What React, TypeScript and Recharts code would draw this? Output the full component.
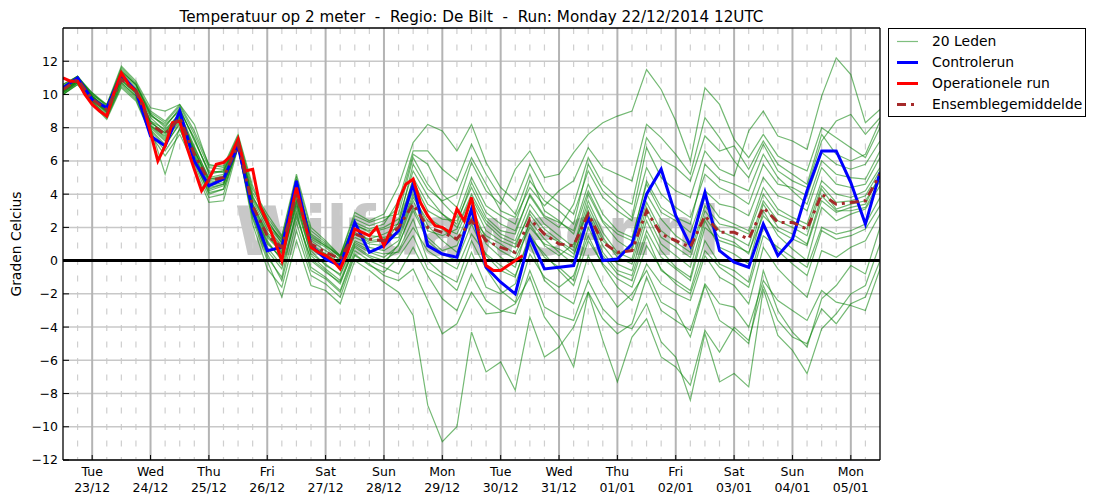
import React from "react";
import {
    CartesianGrid,
    Line,
    LineChart,
    ReferenceLine,
    XAxis,
    YAxis,
} from "recharts";

const FONT = '"DejaVu Sans", sans-serif';

// x axis: 6-hourly steps after the run (22/12 12UTC), ticks at 00UTC of each day
const dayTicks = [2, 6, 10, 14, 18, 22, 26, 30, 34, 38, 42, 46, 50, 54];
const dayNames = ["Tue", "Wed", "Thu", "Fri", "Sat", "Sun", "Mon", "Tue", "Wed", "Thu", "Fri", "Sat", "Sun", "Mon"];
const dayDates = ["23/12", "24/12", "25/12", "26/12", "27/12", "28/12", "29/12", "30/12", "31/12", "01/01", "02/01", "03/01", "04/01", "05/01"];
const yTicks = [-12, -10, -8, -6, -4, -2, 0, 2, 4, 6, 8, 10, 12];

// control run, 6-hourly
const controlRun = [
    10.4, 11.0, 9.7, 9.2, 11.2, 10.2, 7.5, 6.9, 9.0, 6.0, 4.5, 4.9, 6.9, 3.0, 0.6, 0.8,
    4.8, 0.9, 0.1, -0.3, 2.3, 0.5, 0.9, 1.8, 4.6, 0.9, 0.4, 0.2, 3.1, -0.4, -1.3, -2.0,
    1.4, -0.5, -0.4, -0.3, 2.6, 0.0, 0.1, 1.0, 4.0, 5.5, 2.7, 0.9, 4.1, 0.6, -0.1, -0.4,
    2.2, 0.3, 1.3, 4.2, 6.6, 6.6, 4.7, 2.2, 5.3,
];

// operational run, 3-hourly (ends after 189h)
const operationalRun = [
    11.0, 10.8, 10.8, 10.0, 9.4, 9.0, 8.7, 10.1, 11.3, 10.6, 10.2, 9.4, 7.7, 6.0, 6.9, 8.3,
    8.4, 6.8, 5.5, 4.2, 4.9, 5.8, 5.9, 6.3, 7.3, 5.4, 5.5, 3.3, 2.3, 1.2, 0.0, 2.3,
    4.4, 2.5, 0.8, 0.5, 0.3, 0.0, -0.5, 0.5, 1.9, 1.7, 1.5, 2.0, 0.9, 1.9, 3.6, 4.6,
    4.9, 3.5, 2.7, 2.1, 2.0, 1.7, 3.1, 2.4, 3.8, 1.6, -0.3, -0.6, -0.6, -0.3, 0.0, 0.3,
];

// ensemble mean, 6-hourly
const ensembleMean = [
    10.3, 10.9, 9.7, 9.1, 10.9, 10.2, 8.2, 7.6, 8.6, 6.4, 4.8, 5.0, 7.0, 3.3, 1.5, 0.8,
    4.0, 1.0, 0.5, 0.1, 1.6, 1.3, 1.2, 2.0, 3.4, 2.0, 1.7, 1.3, 2.4, 1.2, 0.8, 0.5,
    2.5, 1.6, 1.0, 0.9, 2.8, 1.1, 0.5, 0.6, 3.0, 1.6, 1.2, 0.8, 2.7, 1.7, 1.7, 1.3,
    3.2, 2.3, 2.3, 1.9, 4.0, 3.4, 3.5, 3.6, 5.2,
];

// 20 ensemble members, 6-hourly
const member01 = [10.1, 10.8, 9.9, 9.1, 11.4, 10.6, 8.8, 8.0, 9.2, 7.2, 5.4, 5.3, 7.2, 3.8, 2.4, 1.2, 4.6, 1.6, 1.0, 0.2, 2.1, 1.8, 2.0, 2.5, 5.4, 3.9, 2.8, 2.2, 4.7, 2.9, 2.2, 1.8, 3.9, 2.6, 2.0, 3.4, 6.2, 4.6, 3.8, 3.4, 7.4, 6.1, 5.6, 4.8, 7.5, 6.6, 6.9, 5.5, 7.2, 5.8, 5.2, 4.6, 7.6, 6.4, 6.0, 6.4, 8.4];
const member02 = [10.0, 10.6, 9.5, 8.6, 10.6, 9.8, 7.8, 6.9, 8.3, 6.0, 4.2, 4.5, 6.9, 2.8, 0.2, -1.0, 3.0, -0.4, -1.0, -1.8, 0.6, 0.0, -0.4, -0.8, 0.8, -0.9, -2.3, -3.0, -0.8, -2.4, -3.0, -3.2, -0.6, -2.8, -3.3, -3.6, -1.2, -2.9, -3.8, -4.1, -2.6, -4.9, -5.8, -8.4, -4.4, -7.3, -6.8, -7.6, -1.7, -4.5, -5.4, -6.8, -4.1, -3.2, -2.0, -1.5, 1.0];
const member03 = [10.4, 11.0, 10.1, 9.3, 11.6, 10.7, 9.0, 8.4, 9.4, 7.8, 5.8, 5.6, 7.5, 4.3, 2.8, 1.5, 5.2, 2.0, 1.2, 0.3, 2.9, 2.4, 2.8, 4.5, 7.1, 8.2, 7.8, 6.6, 8.2, 5.9, 4.4, 3.6, 5.8, 4.2, 3.5, 2.8, 5.4, 3.8, 3.0, 2.4, 5.6, 4.0, 3.2, 2.6, 5.2, 4.4, 4.0, 3.4, 5.8, 4.6, 4.4, 3.9, 6.5, 5.8, 5.5, 5.8, 7.2];
const member04 = [10.2, 10.8, 9.7, 8.8, 10.9, 10.0, 8.0, 5.2, 8.0, 5.6, 3.5, 3.6, 6.8, 2.5, 0.0, -2.2, 1.2, -1.5, -1.8, -2.6, 0.0, -0.6, -1.3, -1.9, -3.3, -8.7, -10.9, -10.0, -4.3, -6.7, -6.1, -7.8, -3.4, -5.8, -5.2, -4.0, -1.9, -3.5, -4.4, -3.8, -1.0, -3.0, -3.6, -4.2, -1.4, -2.6, -2.8, -4.0, -1.2, -2.4, -3.0, -3.6, -1.8, -2.5, -2.7, -3.0, -0.5];
const member05 = [10.5, 11.1, 9.9, 9.1, 11.2, 10.4, 8.6, 7.8, 8.9, 6.9, 4.9, 5.1, 7.1, 3.4, 1.6, 0.4, 3.9, 0.8, 0.4, -0.1, 1.6, 1.3, 1.6, 2.0, 4.2, 2.6, 2.0, 1.6, 3.6, 1.8, 1.2, 0.8, 3.0, 1.9, 1.2, 0.6, 3.6, 1.7, 0.5, 0.1, 3.2, 1.4, 0.8, 0.2, 3.0, 1.8, 1.4, 0.9, 3.6, 2.4, 2.0, 1.5, 4.3, 3.1, 3.4, 3.6, 5.0];
const member06 = [10.3, 10.9, 9.6, 9.0, 10.8, 10.1, 8.2, 7.4, 8.6, 6.5, 4.6, 4.9, 7.0, 3.1, 1.2, 0.0, 3.5, 0.3, -0.5, -1.2, 1.0, 0.5, 0.2, 0.9, 3.2, 1.4, 0.6, 0.9, 2.9, 1.0, 0.2, -0.4, 2.4, 1.3, 0.5, -0.2, 2.8, 0.9, -0.2, -0.6, 2.4, 0.6, -0.4, -1.0, 2.4, 0.8, 0.4, -0.2, 3.0, 1.5, 0.7, 0.0, 3.2, 2.4, 2.8, 3.1, 4.5];
const member07 = [10.6, 11.1, 10.0, 9.4, 11.7, 10.8, 9.2, 9.0, 9.4, 8.2, 5.7, 5.7, 7.6, 4.5, 2.5, 1.0, 4.9, 1.3, 0.8, 0.0, 2.5, 2.1, 2.4, 3.2, 6.4, 5.8, 4.0, 3.2, 5.9, 4.2, 3.4, 5.5, 6.6, 5.0, 5.2, 6.5, 7.6, 8.3, 8.7, 9.0, 11.5, 10.3, 8.4, 6.0, 10.4, 9.4, 7.3, 6.2, 7.6, 6.3, 5.8, 5.4, 8.0, 7.4, 6.8, 6.2, 8.0];
const member08 = [10.0, 10.7, 9.4, 8.5, 10.4, 9.6, 7.6, 6.3, 7.6, 5.8, 3.8, 4.0, 6.9, 2.2, -0.5, -1.6, 1.8, -0.9, -1.4, -2.2, 0.3, -0.2, -0.9, -1.2, -0.5, -2.4, -4.4, -3.8, -1.9, -3.2, -3.1, -2.6, -1.0, -3.4, -4.6, -6.4, -1.9, -4.8, -7.3, -4.6, -3.5, -5.8, -6.4, -7.5, -4.2, -5.5, -4.0, -4.8, -1.5, -3.6, -4.6, -5.0, -2.9, -3.8, -2.6, -2.2, 0.0];
const member09 = [10.2, 10.9, 9.9, 9.2, 11.0, 10.3, 8.4, 7.9, 8.8, 6.8, 5.0, 5.2, 7.2, 3.6, 1.9, 0.9, 4.2, 1.2, 0.6, 0.1, 1.9, 1.5, 1.4, 1.6, 4.0, 2.1, 1.2, 0.5, 2.6, 1.5, 1.0, 0.4, 2.2, 0.9, 0.3, 1.0, 3.0, 1.2, 0.4, 0.8, 4.0, 2.5, 1.5, 0.9, 3.8, 2.6, 2.2, 1.8, 4.4, 3.1, 2.6, 2.2, 4.8, 4.0, 3.8, 4.2, 5.6];
const member10 = [10.4, 11.0, 9.8, 8.9, 11.1, 10.2, 8.1, 7.3, 8.5, 6.3, 4.5, 4.7, 6.9, 3.0, 1.0, 0.2, 3.4, 0.6, -0.3, -0.8, 1.2, 0.8, 0.6, 1.2, 3.6, 1.8, 1.5, 1.9, 3.8, 2.2, 1.4, 1.0, 2.8, 1.6, 1.1, 0.4, 2.6, 0.5, -0.6, -0.9, 1.8, 0.2, -0.5, -1.2, 2.0, 1.2, 0.9, 0.5, 2.7, 1.8, 1.3, 0.9, 3.6, 2.9, 3.2, 3.4, 5.2];
const member11 = [10.1, 10.7, 9.6, 8.7, 10.7, 9.9, 7.9, 7.0, 8.2, 6.1, 4.0, 4.3, 6.8, 2.9, 0.6, -0.5, 2.6, 0.1, -0.6, -1.4, 0.9, 0.3, 0.0, 0.6, 2.5, 0.0, -0.8, -1.3, 1.2, -0.5, -1.8, -2.5, 0.4, -1.0, -1.6, -0.9, 1.5, -0.3, -1.6, -2.4, -0.2, -1.4, -2.0, -2.4, 0.3, -1.0, -1.5, -2.6, 0.8, -0.5, -1.4, -2.2, 0.6, 0.2, 0.8, 1.2, 2.8];
const member12 = [10.3, 10.9, 9.8, 9.1, 11.3, 10.5, 8.7, 8.2, 9.0, 7.4, 5.2, 5.4, 7.3, 3.9, 2.1, 1.1, 4.4, 1.5, 0.9, 0.3, 2.3, 1.9, 2.2, 3.6, 6.6, 6.6, 5.5, 4.8, 7.0, 5.2, 3.8, 2.8, 5.2, 3.0, 2.4, 1.6, 4.2, 2.4, 1.6, 1.2, 4.8, 3.2, 2.6, 2.2, 5.8, 4.9, 4.6, 4.2, 6.4, 5.0, 4.2, 3.4, 6.0, 5.2, 5.0, 4.9, 6.6];
const member13 = [10.5, 11.0, 9.9, 9.2, 11.0, 10.3, 8.3, 7.7, 8.7, 6.7, 4.7, 4.9, 7.0, 3.2, 1.4, 0.5, 3.6, 0.7, 0.1, -0.4, 1.4, 1.0, 0.9, 2.3, 4.8, 3.0, 2.5, 2.4, 4.4, 2.6, 1.8, 1.6, 4.0, 2.7, 2.3, 1.8, 4.6, 2.8, 1.8, 1.4, 4.6, 2.9, 2.4, 1.7, 4.2, 3.4, 3.2, 2.7, 5.0, 3.9, 3.6, 3.0, 5.6, 4.6, 4.4, 4.6, 6.2];
const member14 = [10.2, 10.8, 9.7, 8.9, 10.9, 10.1, 8.1, 7.5, 8.6, 6.4, 4.4, 4.6, 6.9, 3.0, 1.1, 0.1, 3.2, 0.4, -0.2, -0.9, 1.1, 0.6, 0.4, 0.5, 2.0, 0.6, 0.0, -0.5, 1.6, 0.4, -0.3, -0.9, 1.4, 0.4, -0.6, -1.5, 1.2, -0.2, -1.1, -1.6, 0.9, -0.5, -1.4, -2.0, 0.6, -0.4, -1.0, -1.6, 1.5, 0.8, 0.2, -0.4, 2.0, 1.6, 1.8, 2.2, 3.8];
const member15 = [10.4, 11.0, 10.0, 9.3, 11.5, 10.6, 8.9, 8.3, 9.3, 7.6, 5.6, 5.5, 7.4, 4.1, 2.6, 1.4, 5.0, 1.8, 1.1, 0.3, 2.7, 2.3, 2.6, 2.8, 6.2, 4.6, 3.5, 2.6, 5.0, 3.3, 2.7, 2.2, 4.8, 3.6, 3.0, 2.2, 5.8, 4.2, 3.4, 2.6, 6.8, 5.0, 4.2, 3.8, 6.6, 5.5, 5.1, 7.8, 9.0, 7.5, 7.2, 6.7, 9.9, 12.2, 11.2, 8.3, 9.1];
const member16 = [10.1, 10.7, 9.5, 8.6, 10.5, 9.7, 7.7, 6.6, 7.9, 5.9, 4.1, 4.3, 6.8, 2.6, 0.4, -1.2, 2.3, -0.6, -1.1, -1.9, 0.4, -0.3, -0.7, 0.2, 1.5, -0.5, -1.0, -1.8, 0.5, -1.6, -2.0, -1.4, 1.0, -1.2, -2.0, -2.6, 0.3, -1.5, -2.8, -2.0, -0.6, -2.5, -3.0, -4.6, -1.5, -3.6, -4.2, -5.0, -0.6, -3.0, -4.3, -5.2, -2.3, -1.5, -0.3, -0.8, 2.0];
const member17 = [10.3, 10.9, 9.8, 9.0, 11.1, 10.3, 8.4, 7.6, 8.7, 6.6, 4.8, 5.0, 7.1, 3.3, 1.5, 0.6, 3.7, 0.9, 0.3, -0.2, 1.6, 1.1, 1.2, 1.8, 5.0, 3.4, 2.8, 2.0, 4.0, 2.4, 1.6, 1.2, 3.4, 2.2, 1.5, 0.8, 4.0, 2.3, 1.2, 0.6, 3.5, 1.8, 1.1, 0.5, 3.3, 2.2, 2.0, 1.6, 4.0, 2.8, 2.4, 1.9, 4.5, 3.5, 3.6, 3.9, 5.4];
const member18 = [10.6, 11.1, 10.1, 9.4, 11.4, 10.6, 8.8, 8.1, 9.1, 7.3, 5.3, 5.4, 7.3, 3.7, 2.2, 1.3, 4.5, 1.4, 0.9, 0.2, 2.2, 1.7, 1.9, 2.2, 5.8, 4.3, 3.6, 4.0, 6.2, 4.6, 3.0, 2.6, 4.4, 3.3, 4.2, 4.8, 6.8, 5.6, 5.2, 4.8, 8.2, 7.4, 6.4, 5.2, 8.6, 7.4, 6.0, 5.0, 7.0, 5.4, 4.8, 4.4, 7.2, 8.4, 8.8, 7.6, 8.6];
const member19 = [10.0, 10.6, 9.6, 8.7, 10.7, 9.9, 8.0, 7.2, 8.4, 6.2, 4.3, 4.6, 6.9, 2.9, 0.8, -0.3, 2.8, 0.0, -0.7, -1.3, 0.8, 0.2, -0.2, 1.0, 3.0, 1.2, 0.4, 0.0, 2.2, 0.3, -0.6, -1.0, 1.6, 0.2, -0.4, -1.2, 2.0, 0.3, -0.8, -1.2, 1.5, -0.6, -1.2, -1.8, 1.2, -0.2, -0.6, -1.3, 2.0, 0.6, -0.2, -0.9, 1.8, 1.3, 1.5, 1.9, 3.3];
const member20 = [10.2, 10.8, 9.8, 9.0, 11.0, 10.2, 8.3, 7.7, 8.8, 6.6, 4.9, 5.0, 7.1, 3.4, 1.7, 0.8, 4.0, 1.0, 0.4, -0.2, 1.7, 1.2, 1.3, 1.4, 3.8, 2.4, 1.9, 1.2, 3.2, 1.3, 0.6, 0.1, 2.0, 1.0, 0.7, 0.2, 3.3, 1.4, 0.2, -0.2, 2.8, 1.0, 0.3, -0.4, 2.6, 1.4, 1.1, 0.4, 3.4, 2.0, 1.6, 1.0, 3.9, 3.0, 3.0, 3.2, 4.8];

const members = [
    member01, member02, member03, member04, member05, member06, member07, member08, member09, member10,
    member11, member12, member13, member14, member15, member16, member17, member18, member19, member20,
];

const legendLabels = ["20 Leden", "Controlerun", "Operationele run", "Ensemblegemiddelde"];

const toSeries = (values: number[], step: number) => values.map((y, i) => ({ x: i * step, y }));

const minorTicks: number[] = [];
for (let s = 1; s < 56; s++) if (!dayTicks.includes(s)) minorTicks.push(s);

const fmtY = (v: number) => (v < 0 ? `\u2212${-v}` : `${v}`);

const DayTick = (props: any) => {
    const { x, y, payload } = props;
    const i = dayTicks.indexOf(payload.value);
    return (
        <text x={x} y={y} textAnchor="middle" fontSize={12.5} fontFamily={FONT} fill="#000">
            <tspan x={x} dy={16}>{dayNames[i]}</tspan>
            <tspan x={x} dy={15.7}>{dayDates[i]}</tspan>
        </text>
    );
};

const Legend = () => (
    <div
        style={{
            position: "absolute",
            left: 888,
            top: 28,
            width: 196,
            height: 87,
            border: "1px solid #000",
            background: "#fff",
            fontFamily: FONT,
            fontSize: 13.9,
        }}
    >
        {legendLabels.map((label, i) => (
            <div key={label} style={{ position: "absolute", left: 0, top: 1.5 + i * 21, height: 21, width: 196 }}>
                <svg width={40} height={21} style={{ position: "absolute", left: 0, top: 0 }}>
                    {i === 0 && <line x1={8} x2={29} y1={10.5} y2={10.5} stroke="#008000" strokeOpacity={0.5} strokeWidth={1.2} />}
                    {i === 1 && <line x1={8} x2={29} y1={10.5} y2={10.5} stroke="#0000ff" strokeWidth={3} />}
                    {i === 2 && <line x1={8} x2={29} y1={10.5} y2={10.5} stroke="#ff0000" strokeWidth={3} />}
                    {i === 3 && <line x1={8} x2={29} y1={10.5} y2={10.5} stroke="#a52a2a" strokeWidth={3} strokeDasharray="9 5 3 5" />}
                </svg>
                <span style={{ position: "absolute", left: 43, top: 1, lineHeight: "19px", whiteSpace: "nowrap" }}>{label}</span>
            </div>
        ))}
    </div>
);

export default function App() {
    return (
        <div style={{ position: "absolute", left: 0, top: 0, width: 1095, height: 504, background: "#fff" }}>
            <svg width={1095} height={504} style={{ position: "absolute", left: 0, top: 0 }}>
                <text
                    x={235}
                    y={255}
                    fontSize={68}
                    fontWeight="bold"
                    fontFamily={FONT}
                    fill="#c8c8c8"
                    textLength={485}
                    lengthAdjust="spacingAndGlyphs"
                >
                    Wilfdaweer.nl
                </text>
                <text x={471.5} y={22} textAnchor="middle" fontSize={15.2} fontFamily={FONT} fill="#000">
                    Temperatuur op 2 meter{"\u00a0\u00a0"}-{"\u00a0\u00a0"}Regio: De Bilt{"\u00a0\u00a0"}-{"\u00a0\u00a0"}Run: Monday 22/12/2014 12UTC
                </text>
                <text
                    x={21}
                    y={244}
                    textAnchor="middle"
                    fontSize={13.9}
                    fontFamily={FONT}
                    fill="#000"
                    transform="rotate(-90 21 244)"
                >
                    Graden Celcius
                </text>
            </svg>
            <div style={{ position: "absolute", left: 0, top: 0 }}>
                <LineChart width={1095} height={504} margin={{ top: 27, right: 214, bottom: 0, left: 0 }}>
                    <CartesianGrid
                        horizontal={false}
                        vertical
                        verticalValues={minorTicks}
                        stroke="#cfcfcf"
                        strokeWidth={1.2}
                        strokeDasharray="6 10.5"
                    />
                    <CartesianGrid
                        horizontal
                        vertical={false}
                        horizontalValues={yTicks}
                        stroke="#c8c8c8"
                        strokeWidth={1.5}
                    />
                    <CartesianGrid
                        horizontal={false}
                        vertical
                        verticalValues={dayTicks}
                        stroke="#b4b4b4"
                        strokeWidth={2}
                    />
                    <XAxis
                        dataKey="x"
                        type="number"
                        domain={[0, 56]}
                        ticks={dayTicks}
                        interval={0}
                        allowDataOverflow
                        height={44}
                        tickSize={-5}
                        tickMargin={5}
                        tick={<DayTick />}
                        axisLine={{ stroke: "#000", strokeWidth: 1.3 }}
                        tickLine={{ stroke: "#000" }}
                    />
                    <XAxis
                        xAxisId="top"
                        orientation="top"
                        type="number"
                        domain={[0, 56]}
                        ticks={dayTicks}
                        interval={0}
                        height={1}
                        tickSize={-5}
                        tick={false}
                        axisLine={{ stroke: "#000", strokeWidth: 1.3 }}
                        tickLine={{ stroke: "#000" }}
                    />
                    <YAxis
                        type="number"
                        domain={[-12, 14]}
                        ticks={yTicks}
                        interval={0}
                        allowDataOverflow
                        width={63}
                        tickSize={-6}
                        tickMargin={11}
                        tickFormatter={fmtY}
                        tick={{ fontSize: 12.5, fontFamily: FONT, fill: "#000" }}
                        axisLine={{ stroke: "#000", strokeWidth: 1.3 }}
                        tickLine={{ stroke: "#000" }}
                    />
                    <YAxis
                        yAxisId="right"
                        orientation="right"
                        type="number"
                        domain={[-12, 14]}
                        ticks={yTicks}
                        interval={0}
                        width={1}
                        tickSize={-6}
                        tick={false}
                        axisLine={{ stroke: "#000", strokeWidth: 1.3 }}
                        tickLine={{ stroke: "#000" }}
                    />
                    {members.map((m, i) => (
                        <Line
                            key={`m${i}`}
                            data={toSeries(m, 1)}
                            dataKey="y"
                            type="linear"
                            stroke="#008000"
                            strokeOpacity={0.55}
                            strokeWidth={1.2}
                            dot={false}
                            isAnimationActive={false}
                        />
                    ))}
                    <ReferenceLine y={0} stroke="#000" strokeWidth={3} />
                    <Line
                        data={toSeries(controlRun, 1)}
                        dataKey="y"
                        type="linear"
                        stroke="#0000ff"
                        strokeWidth={3}
                        dot={false}
                        isAnimationActive={false}
                    />
                    <Line
                        data={toSeries(operationalRun, 0.5)}
                        dataKey="y"
                        type="linear"
                        stroke="#ff0000"
                        strokeWidth={3}
                        dot={false}
                        isAnimationActive={false}
                    />
                    <Line
                        data={toSeries(ensembleMean, 1)}
                        dataKey="y"
                        type="linear"
                        stroke="#a52a2a"
                        strokeWidth={3}
                        strokeDasharray="9 5 3 5"
                        dot={false}
                        isAnimationActive={false}
                    />
                </LineChart>
            </div>
            <Legend />
        </div>
    );
}
